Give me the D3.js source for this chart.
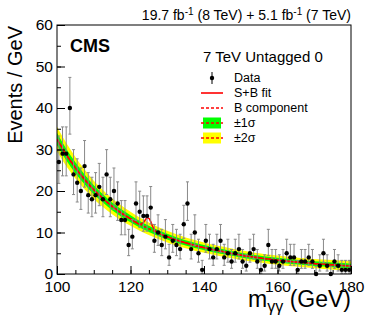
<!DOCTYPE html>
<html>
<head>
<meta charset="utf-8">
<script src="https://cdn.jsdelivr.net/npm/d3@7"></script>
<style>
  body { margin: 0; background: #fff; }
  svg { display: block; font-family: "Liberation Sans", Arial, sans-serif; }
</style>
</head>
<body>
<svg id="chart" width="374" height="323"></svg>
<script>
// Diphoton mass bins (1 GeV wide) and event counts
const binCenters = [
  100.5, 101.5, 102.5, 103.5, 104.5, 105.5, 106.5, 107.5, 108.5, 109.5,
  110.5, 111.5, 112.5, 113.5, 114.5, 115.5, 116.5, 117.5, 118.5, 119.5,
  120.5, 121.5, 122.5, 123.5, 124.5, 125.5, 126.5, 127.5, 128.5, 129.5,
  130.5, 131.5, 132.5, 133.5, 134.5, 135.5, 136.5, 137.5, 138.5, 139.5,
  140.5, 141.5, 142.5, 143.5, 144.5, 145.5, 146.5, 147.5, 148.5, 149.5,
  150.5, 151.5, 152.5, 153.5, 154.5, 155.5, 156.5, 157.5, 158.5, 159.5,
  160.5, 161.5, 162.5, 163.5, 164.5, 165.5, 166.5, 167.5, 168.5, 169.5,
  170.5, 171.5, 172.5, 173.5, 174.5, 175.5, 176.5, 177.5, 178.5, 179.5
];
const counts = [
  27, 29, 29, 40, 24, 22, 20, 26, 19, 18,
  19, 21, 18, 24, 18, 20, 17, 13, 13, 7,
  9, 17, 15, 14, 14, 16, 8, 10, 7, 9,
  4, 8, 7, 6, 12, 17, 6, 10, 5, 1,
  8, 6, 4, 6, 8, 4, 5, 3, 5, 6,
  3, 2, 5, 6, 3, 1, 2, 7, 3, 3,
  2, 3, 5, 4, 4, 1, 3, 3, 4, 3,
  0, 2, 5, 2, 0, 3, 2, 1, 1, 1
];

// Background component and its uncertainty bands, read at 2.5 GeV steps
const bkgMass = [
  100, 102.5, 105, 107.5, 110, 112.5, 115, 117.5, 120, 122.5, 125,
  127.5, 130, 132.5, 135, 137.5, 140, 142.5, 145, 147.5, 150, 152.5,
  155, 157.5, 160, 162.5, 165, 167.5, 170, 172.5, 175, 177.5, 180
];
const bkgValue = [
  32.5, 28.8, 25.6, 22.8, 20.3, 18.2, 16.3, 14.7, 13.3, 12.0, 10.9,
  9.9, 9.0, 8.2, 7.5, 6.9, 6.35, 5.85, 5.4, 4.95, 4.55, 4.2,
  3.9, 3.6, 3.35, 3.1, 2.9, 2.7, 2.5, 2.35, 2.2, 2.05, 1.9
];
const err1 = [
  1.5, 1.4, 1.3, 1.2, 1.1, 1.0, 0.95, 0.9, 0.85, 0.8, 0.75,
  0.72, 0.7, 0.68, 0.66, 0.64, 0.62, 0.6, 0.6, 0.58, 0.58, 0.56,
  0.56, 0.55, 0.55, 0.55, 0.55, 0.55, 0.56, 0.57, 0.58, 0.59, 0.6
];
const err2 = [
  3.0, 2.8, 2.6, 2.4, 2.2, 2.05, 1.9, 1.8, 1.7, 1.6, 1.5,
  1.45, 1.4, 1.36, 1.32, 1.28, 1.25, 1.22, 1.2, 1.17, 1.15, 1.13,
  1.12, 1.1, 1.1, 1.1, 1.1, 1.1, 1.12, 1.14, 1.16, 1.18, 1.2
];

// Signal + background fit, with the peak near 125 GeV
const sbMass = [
  100, 102.5, 105, 107.5, 110, 112.5, 115, 117.5, 120, 122.5,
  123, 123.5, 124, 124.5, 125, 125.5, 126, 126.5, 127.5,
  130, 132.5, 135, 137.5, 140, 142.5, 145, 147.5, 150, 152.5,
  155, 157.5, 160, 162.5, 165, 167.5, 170, 172.5, 175, 177.5, 180
];
const sbValue = [
  32.5, 28.8, 25.6, 22.8, 20.3, 18.2, 16.3, 14.7, 13.3, 12.0,
  12.1, 12.4, 13.0, 13.5, 13.4, 12.6, 11.5, 10.7, 9.9,
  9.0, 8.2, 7.5, 6.9, 6.35, 5.85, 5.4, 4.95, 4.55, 4.2,
  3.9, 3.6, 3.35, 3.1, 2.9, 2.7, 2.5, 2.35, 2.2, 2.05, 1.9
];

const xTicks = [100, 120, 140, 160, 180];
const yTicks = [0, 10, 20, 30, 40, 50, 60];
const legendLabels = ['Data', 'S+B fit', 'B component', '\u00b11\u03c3', '\u00b12\u03c3'];

// Poisson 68% interval (Wilson-Hilferty approximation)
function poissonLow(n) {
    if (n === 0) return 0;
    return n * Math.pow(1 - 1 / (9 * n) - 1 / (3 * Math.sqrt(n)), 3);
}
function poissonHigh(n) {
    const m = n + 1;
    return m * Math.pow(1 - 1 / (9 * m) + 1 / (3 * Math.sqrt(m)), 3);
}

const svg = d3.select('#chart');
const plotLeft = 57, plotRight = 351, plotTop = 25, plotBottom = 274;

const x = d3.scaleLinear().domain([100, 180]).range([plotLeft, plotRight]);
const y = d3.scaleLinear().domain([0, 60]).range([plotBottom, plotTop]);

svg.append('defs').append('clipPath').attr('id', 'plot-clip')
    .append('rect')
    .attr('x', plotLeft).attr('y', plotTop)
    .attr('width', plotRight - plotLeft).attr('height', plotBottom - plotTop);

const plot = svg.append('g').attr('clip-path', 'url(#plot-clip)');

const bandPts = bkgMass.map((m, i) => ({m: m, b: bkgValue[i], e1: err1[i], e2: err2[i]}));

// Yellow 2 sigma band, then green 1 sigma band
plot.append('path')
    .datum(bandPts)
    .attr('fill', '#ffff00')
    .attr('d', d3.area().curve(d3.curveMonotoneX)
        .x(d => x(d.m)).y0(d => y(d.b - d.e2)).y1(d => y(d.b + d.e2)));

plot.append('path')
    .datum(bandPts)
    .attr('fill', '#00ff00')
    .attr('d', d3.area().curve(d3.curveMonotoneX)
        .x(d => x(d.m)).y0(d => y(d.b - d.e1)).y1(d => y(d.b + d.e1)));

// B component (dashed)
plot.append('path')
    .datum(bandPts)
    .attr('fill', 'none')
    .attr('stroke', '#ff0000')
    .attr('stroke-width', 1.5)
    .attr('stroke-dasharray', '3,2')
    .attr('d', d3.line().curve(d3.curveMonotoneX).x(d => x(d.m)).y(d => y(d.b)));

// S+B fit (solid)
plot.append('path')
    .datum(sbMass.map((m, i) => [m, sbValue[i]]))
    .attr('fill', 'none')
    .attr('stroke', '#ff0000')
    .attr('stroke-width', 1.6)
    .attr('d', d3.line().curve(d3.curveMonotoneX).x(d => x(d[0])).y(d => y(d[1])));

// Data with error bars
const data = binCenters.map((m, i) => ({
    m: m, n: counts[i], lo: poissonLow(counts[i]), hi: poissonHigh(counts[i])
}));

const bars = svg.append('g').attr('stroke', '#888').attr('stroke-width', 1);
bars.selectAll('.err')
    .data(data)
    .enter()
    .append('line')
    .attr('x1', d => x(d.m)).attr('x2', d => x(d.m))
    .attr('y1', d => y(d.lo)).attr('y2', d => y(d.hi));
bars.selectAll('.cap-hi')
    .data(data)
    .enter()
    .append('line')
    .attr('x1', d => x(d.m) - 1.5).attr('x2', d => x(d.m) + 1.5)
    .attr('y1', d => y(d.hi)).attr('y2', d => y(d.hi));
bars.selectAll('.cap-lo')
    .data(data.filter(d => d.n > 0))
    .enter()
    .append('line')
    .attr('x1', d => x(d.m) - 1.5).attr('x2', d => x(d.m) + 1.5)
    .attr('y1', d => y(d.lo)).attr('y2', d => y(d.lo));

svg.append('g').selectAll('circle')
    .data(data)
    .enter()
    .append('circle')
    .attr('cx', d => x(d.m))
    .attr('cy', d => y(d.n))
    .attr('r', 2.2)
    .attr('fill', '#000');

// Axes, ticks pointing inside the frame
function styleAxis(g) {
    g.select('.domain').remove();
    g.selectAll('line').attr('stroke', '#000');
    g.selectAll('text').attr('fill', '#000');
    g.attr('font-family', null).attr('font-size', null);
}

svg.append('g')
    .attr('transform', `translate(0,${plotBottom})`)
    .call(d3.axisBottom(x).tickValues(d3.range(100, 181, 5)).tickSize(-4).tickFormat(''))
    .call(styleAxis);
svg.append('g')
    .attr('transform', `translate(0,${plotBottom})`)
    .call(d3.axisBottom(x).tickValues(xTicks).tickSize(-8).tickPadding(7))
    .call(styleAxis)
    .style('font-size', '15.5px');

svg.append('g')
    .attr('transform', `translate(${plotLeft},0)`)
    .call(d3.axisLeft(y).tickValues(d3.range(0, 61, 5)).tickSize(-4).tickFormat(''))
    .call(styleAxis);
svg.append('g')
    .attr('transform', `translate(${plotLeft},0)`)
    .call(d3.axisLeft(y).tickValues(yTicks).tickSize(-8).tickPadding(4))
    .call(styleAxis)
    .style('font-size', '15.5px');

// Frame
svg.append('rect')
    .attr('x', plotLeft).attr('y', plotTop)
    .attr('width', plotRight - plotLeft).attr('height', plotBottom - plotTop)
    .attr('fill', 'none').attr('stroke', '#000').attr('stroke-width', 1);

// Titles
svg.append('text')
    .attr('transform', 'translate(22,26) rotate(-90)')
    .attr('text-anchor', 'end')
    .attr('font-size', 20)
    .text('Events / GeV');

const xt = svg.append('text')
    .attr('x', plotRight).attr('y', 307)
    .attr('text-anchor', 'end')
    .attr('font-size', 23);
xt.append('tspan').text('m');
xt.append('tspan').attr('font-size', 16).attr('dy', 5).text('\u03b3\u03b3');
xt.append('tspan').attr('dy', -5).text(' (GeV)');

const lumi = svg.append('text')
    .attr('x', plotRight).attr('y', 20)
    .attr('text-anchor', 'end')
    .attr('font-size', 14);
lumi.append('tspan').text('19.7 fb');
lumi.append('tspan').attr('font-size', 10).attr('dy', -5).text('-1');
lumi.append('tspan').attr('dy', 5).text(' (8 TeV) + 5.1 fb');
lumi.append('tspan').attr('font-size', 10).attr('dy', -5).text('-1');
lumi.append('tspan').attr('dy', 5).text(' (7 TeV)');

svg.append('text')
    .attr('x', 70).attr('y', 52)
    .attr('font-size', 18).attr('font-weight', 'bold')
    .text('CMS');

svg.append('text')
    .attr('x', 203).attr('y', 62)
    .attr('font-size', 15)
    .text('7 TeV Untagged 0');

// Legend
const legY = [78, 93, 108, 123, 138];
const leg = svg.append('g');
leg.selectAll('text')
    .data(legendLabels)
    .enter()
    .append('text')
    .attr('x', 234)
    .attr('y', (d, i) => legY[i])
    .attr('dy', '0.35em')
    .attr('font-size', 12.5)
    .text(d => d);

leg.append('line')
    .attr('x1', 212).attr('x2', 212)
    .attr('y1', legY[0] - 6).attr('y2', legY[0] + 6)
    .attr('stroke', '#000');
leg.append('circle').attr('cx', 212).attr('cy', legY[0]).attr('r', 2.2).attr('fill', '#000');

leg.append('line')
    .attr('x1', 201).attr('x2', 223)
    .attr('y1', legY[1]).attr('y2', legY[1])
    .attr('stroke', '#ff0000').attr('stroke-width', 1.6);

leg.append('rect')
    .attr('x', 203).attr('y', legY[3] - 5.5).attr('width', 18).attr('height', 11)
    .attr('fill', '#00ff00');
leg.append('rect')
    .attr('x', 203).attr('y', legY[4] - 5.5).attr('width', 18).attr('height', 11)
    .attr('fill', '#ffff00');

[2, 3, 4].forEach(i => {
    leg.append('line')
        .attr('x1', 201).attr('x2', 223)
        .attr('y1', legY[i]).attr('y2', legY[i])
        .attr('stroke', '#ff0000').attr('stroke-width', 1.5)
        .attr('stroke-dasharray', '3,2');
});
</script>
</body>
</html>
